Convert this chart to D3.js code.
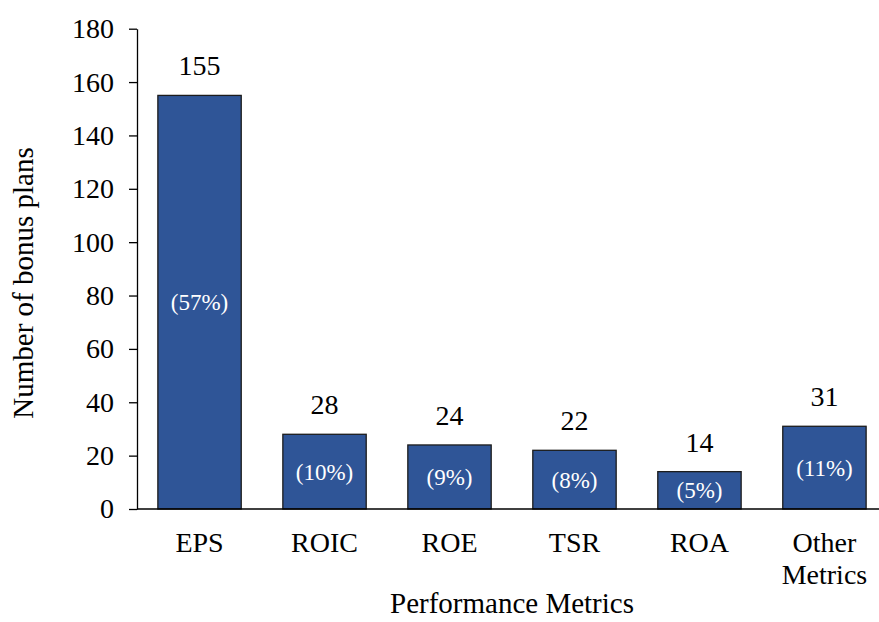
<!DOCTYPE html>
<html><head><meta charset="utf-8">
<script src="https://cdn.jsdelivr.net/npm/d3@7"></script>
<style>body{margin:0;background:#fff}text{font-family:"Liberation Serif","Times New Roman",serif}</style>
</head><body><svg id="c" width="879" height="622"></svg>
<script>
const categories = ["EPS","ROIC","ROE","TSR","ROA","Other Metrics"];
const values = [155,28,24,22,14,31];
const shares = ["(57%)","(10%)","(9%)","(8%)","(5%)","(11%)"];
const yTicks = [0,20,40,60,80,100,120,140,160,180];

const svg = d3.select("#c");
const x = d3.scaleBand().domain(categories).range([137,887]).paddingInner(0.333).paddingOuter(0.167);
const y = d3.scaleLinear().domain([0,180]).range([509,28.7]);

const yAxis = svg.append("g").attr("transform","translate(137,0)")
  .call(d3.axisLeft(y).tickValues(yTicks).tickSize(8).tickPadding(15).tickSizeOuter(0));
yAxis.select(".domain").attr("stroke","#000").attr("stroke-width",1.3);
yAxis.selectAll(".tick line").attr("stroke","#000").attr("stroke-width",1.3);
yAxis.selectAll(".tick text").attr("font-size",28).attr("fill","#000").attr("font-family","Liberation Serif");

svg.append("g").selectAll("rect").data(categories).join("rect")
  .attr("x",d=>x(d)).attr("width",x.bandwidth())
  .attr("y",(d,i)=>y(values[i])).attr("height",(d,i)=>y(0)-y(values[i]))
  .attr("fill","#2f5597").attr("stroke","#1c1c1c").attr("stroke-width",1.3);

svg.append("line").attr("x1",137).attr("x2",879).attr("y1",y(0)).attr("y2",y(0))
  .attr("stroke","#000").attr("stroke-width",1.3);

svg.append("g").selectAll("text").data(categories).join("text")
  .attr("x",d=>x(d)+x.bandwidth()/2).attr("y",(d,i)=>y(values[i])-20)
  .attr("text-anchor","middle").attr("font-size",28).text((d,i)=>values[i]);

svg.append("g").selectAll("text").data(categories).join("text")
  .attr("x",d=>x(d)+x.bandwidth()/2).attr("y",(d,i)=>(y(values[i])+y(0))/2+8)
  .attr("text-anchor","middle").attr("font-size",23).attr("fill","#fff").text((d,i)=>shares[i]);

const cl = svg.append("g").selectAll("text").data(categories).join("text")
  .attr("x",d=>x(d)+x.bandwidth()/2).attr("y",552)
  .attr("text-anchor","middle").attr("font-size",28);
cl.each(function(d){
  const words = d.split(" ");
  const t = d3.select(this);
  words.forEach((w,i)=>t.append("tspan").attr("x",x(d)+x.bandwidth()/2).attr("dy",i?32:0).text(w));
});

svg.append("text").attr("x",512).attr("y",613).attr("text-anchor","middle").attr("font-size",29)
  .text("Performance Metrics");
svg.append("text").attr("transform","translate(33,283) rotate(-90)").attr("text-anchor","middle")
  .attr("font-size",29).text("Number of bonus plans");
</script></body></html>
